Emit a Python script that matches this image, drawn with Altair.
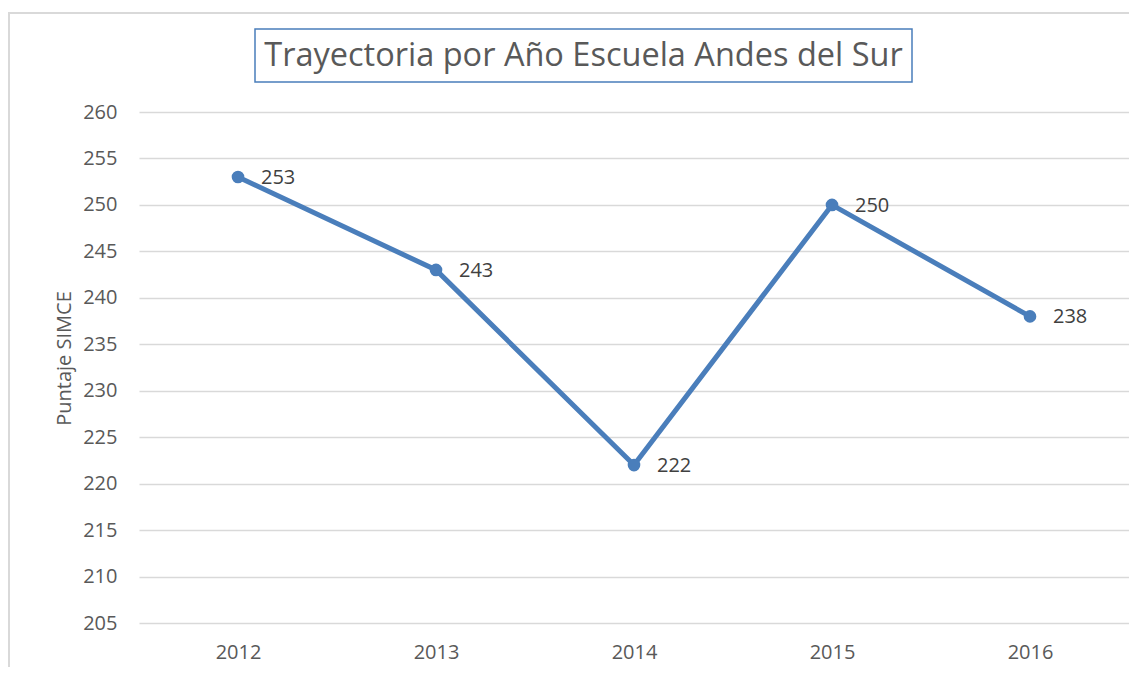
import altair as alt
import pandas as pd

years = ["2012", "2013", "2014", "2015", "2016"]
scores = [253, 243, 222, 250, 238]
y_ticks = [205, 210, 215, 220, 225, 230, 235, 240, 245, 250, 255, 260]
title_text = "Trayectoria por Año Escuela Andes del Sur"
y_title = "Puntaje SIMCE"

df = pd.DataFrame({"year": years, "score": scores})

FONT = "Open Sans"
W, H = 990, 511
BLUE = "#4a7ebb"
GRAY = "#595959"

x_enc = alt.X("year:O", sort=years, title=None,
              scale=alt.Scale(type="point", padding=0.5),
              axis=alt.Axis(labelAngle=0, ticks=False, domain=False,
                            labelPadding=19, labelFontSize=20, labelFont=FONT,
                            labelColor=GRAY, grid=False))
y_enc = alt.Y("score:Q", title=y_title,
              scale=alt.Scale(domain=[205, 260], nice=False, zero=False),
              axis=alt.Axis(values=y_ticks, ticks=False, domain=False,
                            labelPadding=22, labelFontSize=20, labelFont=FONT,
                            labelColor=GRAY, gridColor="#d9d9d9",
                            gridWidth=1.5, titleFont=FONT, titleFontSize=20,
                            titleFontWeight="normal", titleColor=GRAY,
                            titleAngle=270, titleAlign="center",
                            titleBaseline="bottom", titleX=-65, titleY=246))

base = alt.Chart(df)

line = base.mark_line(color=BLUE, strokeWidth=5).encode(x=x_enc, y=y_enc)
points = base.mark_point(filled=True, color=BLUE, size=160, opacity=1).encode(x=x_enc, y=y_enc)
labels = base.mark_text(align="left", baseline="middle", dx=23, dy=1,
                        font=FONT, fontSize=20, color="#404040").encode(
    x=x_enc, y=y_enc, text="score:Q")

title_df = pd.DataFrame({"t": [title_text]})
title_box = alt.Chart(title_df).mark_rect(fill="white", stroke=BLUE, strokeWidth=1.5).encode(
    x=alt.value(116), x2=alt.value(773), y=alt.value(-83), y2=alt.value(-30))
title_mark = alt.Chart(title_df).mark_text(font=FONT, fontSize=32.5, color=GRAY,
                                           align="center", baseline="middle").encode(
    x=alt.value(444.5), y=alt.value(-56), text="t:N")
outer = alt.Chart(title_df).mark_rect(fill="white", fillOpacity=0, stroke="#d9d9d9", strokeWidth=2).encode(
    x=alt.value(-130), x2=alt.value(1010), y=alt.value(-99), y2=alt.value(560))

chart = alt.layer(outer, line, points, labels, title_box, title_mark).properties(
    width=W, height=H,
    background="white",
    autosize=alt.AutoSizeParams(type="none"),
    padding={"left": 131, "top": 104, "right": 0, "bottom": 44},
).configure_view(strokeWidth=0, strokeOpacity=0)

chart.save("out.html", embed_options={"renderer": "svg", "actions": False})
